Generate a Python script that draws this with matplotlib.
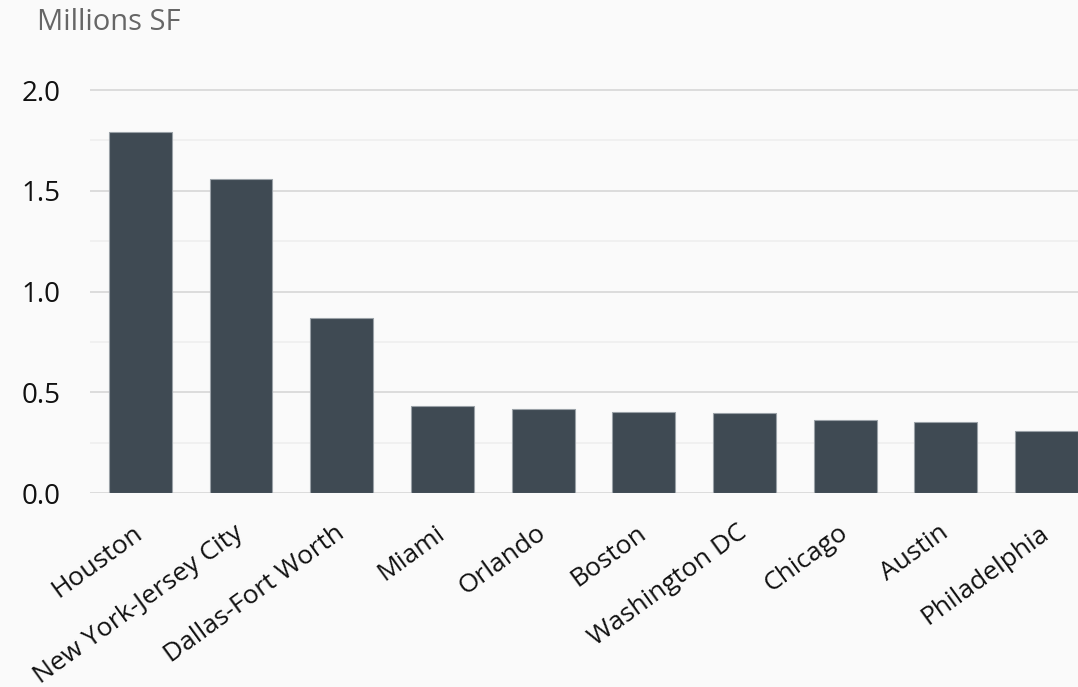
import matplotlib.pyplot as plt
from matplotlib.ticker import MultipleLocator

cities = ["Houston", "New York-Jersey City", "Dallas-Fort Worth", "Miami", "Orlando",
          "Boston", "Washington DC", "Chicago", "Austin", "Philadelphia"]
values = [1.79, 1.558, 0.868, 0.432, 0.417, 0.402, 0.397, 0.362, 0.352, 0.308]

bg = "#fafafa"
plt.rcParams["font.family"] = ["Open Sans", "DejaVu Sans"]

fig = plt.figure(figsize=(10.78, 6.87), dpi=100, facecolor=bg)
ax = fig.add_axes([90 / 1078, (687 - 493) / 687, 1 - 90 / 1078, (493 - 88) / 687])
ax.set_facecolor(bg)

x = range(len(cities))
ax.bar(x, values, width=0.625, color="#3f4a53", edgecolor="#9aa1a7", linewidth=0.8, zorder=3)

ax.set_xlim(-0.5, len(cities) - 1 + 0.3125)
ax.set_ylim(0, 2.01)
ax.yaxis.set_major_locator(MultipleLocator(0.5))
ax.yaxis.set_minor_locator(MultipleLocator(0.25))
ax.grid(axis="y", which="major", color="#dcdcdc", linewidth=1.4, zorder=0)
ax.grid(axis="y", which="minor", color="#efefef", linewidth=1.2, zorder=0)
ax.yaxis.set_major_formatter(plt.FuncFormatter(lambda v, p: f"{v:.1f}"))

for s in ax.spines.values():
    s.set_visible(False)
ax.tick_params(axis="y", which="both", length=0, labelsize=20, pad=21, labelcolor="#111111")
ax.tick_params(axis="x", length=0, pad=27)
ax.set_xticks(list(x))
ax.set_xticklabels(cities, rotation=36, ha="right", va="center", rotation_mode="anchor",
                   fontsize=19, color="#111111")

fig.text(37 / 1078, 1 - 22 / 687, "Millions SF", fontsize=21, color="#666666", va="center")

fig.savefig("out.png", dpi=100, facecolor=bg)
